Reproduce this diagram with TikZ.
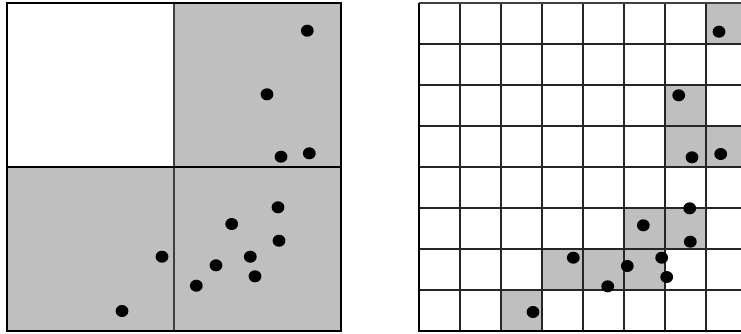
\documentclass[tikz,border=0pt]{standalone}
\begin{document}
\begin{tikzpicture}[x=1pt,y=-1pt,
  cellfill/.style={fill=black!25},
  outerline/.style={line width=2.2pt,draw=black},
  thickline/.style={line width=2pt,draw=black},
  thinline/.style={line width=1.4pt,draw=black!75},
  gridline/.style={line width=1.5pt,draw=black!85},
  dotmark/.style={fill=black}]
\useasboundingbox (0,0) rectangle (741,333);
% ---- left panel ----
\fill[cellfill] (174,3) rectangle (341,167);
\fill[cellfill] (7,167) rectangle (341,331);
\draw[thinline] (174,3) -- (174,331);
\draw[thickline] (7,167) -- (341,167);
\draw[outerline] (7,3) rectangle (341,331);
\foreach \px/\py in {307.3/30.7, 267/94.3, 281/156.7, 309.3/153.3, 278/207.3, 231.7/224,
  279/240.7, 162/256.7, 250.3/256.7, 216/265.3, 255/276.3, 196.3/285.7, 122/311}
  \fill[dotmark] (\px,\py) ellipse [x radius=6.4, y radius=6];
% ---- right panel: 8x8 grid ----
\def\gx{419}\def\gy{3}\def\cs{41}
\foreach \c/\r in {7/0, 6/2, 6/3, 7/3, 5/5, 6/5, 3/6, 4/6, 5/6, 2/7}
  \fill[cellfill] ({\gx+\c*\cs},{\gy+\r*\cs}) rectangle ++(\cs,\cs);
\foreach \i in {1,...,8}
  \draw[gridline] ({\gx+\i*\cs},\gy) -- ({\gx+\i*\cs},{\gy+8*\cs});
\foreach \i in {1,...,7}
  \draw[gridline] (\gx,{\gy+\i*\cs}) -- ({\gx+8*\cs},{\gy+\i*\cs});
\draw[thinline] (\gx,\gy) -- ({\gx+8*\cs},\gy);
\draw[outerline] (\gx,\gy) -- (\gx,{\gy+8*\cs}) -- ({\gx+8*\cs},{\gy+8*\cs});
\foreach \px/\py in {719/31.7, 678.7/95.3, 692/157.3, 720.7/154, 689.7/208.3, 643.3/225.3,
  690.3/241.7, 573.3/257.7, 661.7/257.7, 627.3/266, 666.7/277, 607.7/286.3, 533/312}
  \fill[dotmark] (\px,\py) ellipse [x radius=6.4, y radius=6];
\end{tikzpicture}
\end{document}
